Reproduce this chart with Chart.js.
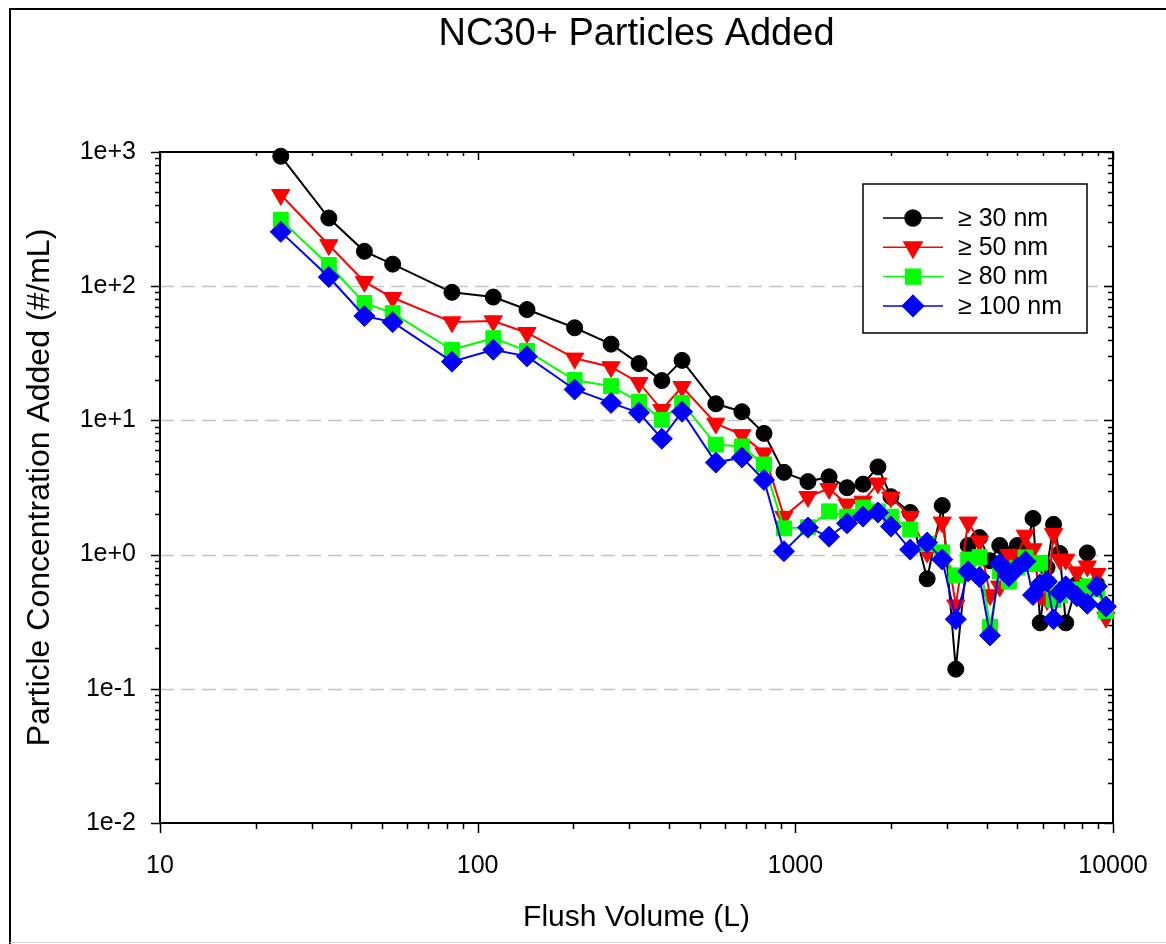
<!DOCTYPE html>
<html>
<head>
<meta charset="utf-8">
<script src="https://cdn.jsdelivr.net/npm/chart.js@4.4.1/dist/chart.umd.min.js"></script>
<style>
  html, body { margin: 0; padding: 0; background: #fff; }
  #wrap { width: 1166px; height: 944px; }
</style>
</head>
<body>
<div id="wrap"><canvas id="nc30Chart" width="1166" height="944"></canvas></div>
<script>
// flush volume (L) for every sample
const flushVolume = [24, 34, 44, 54, 83, 112, 143, 202, 263, 322, 380, 440, 562, 679, 797, 921,
  1096, 1277, 1455, 1634, 1820, 2000, 2300, 2600, 2900, 3200, 3500, 3800, 4100, 4400, 4700,
  5000, 5300, 5600, 5900, 6200, 6500, 6800, 7100, 7700, 8300, 8900, 9500];

// particle concentration added (#/mL) per size bin
const above30 = [930, 322, 182, 146, 90, 83, 67, 49, 37, 26.5, 19.8, 28, 13.3, 11.6, 8.0, 4.1,
  3.5, 3.8, 3.15, 3.35, 4.5, 2.7, 2.06, 0.66, 2.32, 0.14, 1.17, 1.34, 0.9, 1.17, 1.0,
  1.17, 1.05, 1.86, 0.31, 0.8, 1.68, 1.02, 0.31, 0.6, 1.03, 0.6, 0.4];
const above50 = [480, 203, 108, 82, 54, 55, 45, 29, 25, 19.1, 12, 17.8, 9.5, 7.8, 5.7, 1.92,
  2.7, 3.1, 2.37, 2.49, 3.4, 2.67, 1.92, 1.04, 1.74, 0.42, 1.74, 1.26, 0.5, 0.58, 1.0,
  1.0, 1.39, 1.1, 0.5, 0.46, 1.43, 0.92, 0.92, 0.74, 0.82, 0.72, 0.34];
const above80 = [312, 144, 75, 63, 33.6, 41, 33, 20, 18, 13.8, 10.1, 13.5, 6.6, 6.4, 4.7, 1.57,
  1.6, 2.1, 1.92, 2.24, 2.1, 1.92, 1.54, 1.2, 1.04, 0.7, 0.92, 0.96, 0.29, 0.75, 0.63,
  0.8, 0.95, 0.85, 0.87, 0.6, 0.46, 0.5, 0.55, 0.55, 0.58, 0.55, 0.38];
const above100 = [254, 117, 60, 54, 27.4, 33.6, 30, 17, 13.5, 11.4, 7.3, 11.6, 4.85, 5.3, 3.6, 1.06,
  1.59, 1.36, 1.71, 1.92, 2.06, 1.62, 1.09, 1.23, 0.92, 0.33, 0.75, 0.68, 0.25, 0.85, 0.69,
  0.8, 0.89, 0.5, 0.6, 0.63, 0.33, 0.52, 0.58, 0.49, 0.43, 0.58, 0.41];

const seriesNames = ['\u2265 30 nm', '\u2265 50 nm', '\u2265 80 nm', '\u2265 100 nm'];

const yTicks = [0.01, 0.1, 1, 10, 100, 1000];
const yTickLabels = ['1e-2', '1e-1', '1e+0', '1e+1', '1e+2', '1e+3'];
const xTicks = [10, 100, 1000, 10000];
const xTickLabels = ['10', '100', '1000', '10000'];

const FONT = "'Liberation Sans', Arial, Helvetica, sans-serif";

function makeSeries(label, values, color, style, rotation, radius, order) {
    return {
        label: label,
        data: values.map((v, i) => ({ x: flushVolume[i], y: v })),
        borderColor: color,
        backgroundColor: color,
        borderWidth: 2,
        pointStyle: style,
        rotation: rotation,
        pointRadius: radius,
        pointHoverRadius: radius,
        pointBorderWidth: 1,
        pointBackgroundColor: color,
        pointBorderColor: color,
        tension: 0,
        clip: false,
        order: order
    };
}

const datasets = [
    makeSeries(seriesNames[0], above30, '#000000', 'circle', 0, 8, 4),
    makeSeries(seriesNames[1], above50, '#ff0000', 'triangle', 180, 10.5, 3),
    makeSeries(seriesNames[2], above80, '#00ff00', 'rect', 0, 10.5, 2),
    makeSeries(seriesNames[3], above100, '#0000ff', 'rectRot', 0, 10.5, 1)
];

// outer border, dashed decade lines, axis box and tick marks
const framePlugin = {
    id: 'frame',
    beforeDraw(chart) {
        const ctx = chart.ctx;
        ctx.save();
        ctx.fillStyle = '#fff';
        ctx.fillRect(0, 0, chart.width, chart.height);
        ctx.strokeStyle = '#000';
        ctx.lineWidth = 2;
        ctx.beginPath();
        ctx.moveTo(10, chart.height);
        ctx.lineTo(10, 9);
        ctx.lineTo(chart.width + 5, 9);
        ctx.stroke();
        ctx.strokeStyle = '#d8d8d8';
        ctx.lineWidth = 1;
        ctx.beginPath();
        ctx.moveTo(10, 942.5);
        ctx.lineTo(chart.width, 942.5);
        ctx.stroke();
        ctx.restore();
    },
    beforeDatasetsDraw(chart) {
        const { ctx, chartArea: a, scales: { x, y } } = chart;
        ctx.save();
        // dashed lines at inner decades
        ctx.strokeStyle = '#c4c4c4';
        ctx.lineWidth = 1.5;
        ctx.setLineDash([14, 7]);
        yTicks.slice(1, -1).forEach(v => {
            const py = Math.round(y.getPixelForValue(v)) + 0.5;
            ctx.beginPath();
            ctx.moveTo(a.left, py);
            ctx.lineTo(a.right, py);
            ctx.stroke();
        });
        ctx.setLineDash([]);

        ctx.strokeStyle = '#000';
        ctx.lineWidth = 1.5;
        ctx.beginPath();
        // y ticks: outward on the left, inward on the right
        for (let d = -2; d <= 3; d++) {
            for (let m = 1; m <= 9; m++) {
                const v = m * Math.pow(10, d);
                if (v > 1000) break;
                const py = Math.round(y.getPixelForValue(v)) + 0.5;
                const len = m === 1 ? 9 : 5;
                ctx.moveTo(a.left - len, py);
                ctx.lineTo(a.left, py);
                ctx.moveTo(a.right - len, py);
                ctx.lineTo(a.right, py);
            }
        }
        // x ticks: outward at the bottom, inward at the top
        for (let d = 1; d <= 4; d++) {
            for (let m = 1; m <= 9; m++) {
                const v = m * Math.pow(10, d);
                if (v > 10000) break;
                const px = Math.round(x.getPixelForValue(v)) + 0.5;
                const len = m === 1 ? 10 : 6;
                ctx.moveTo(px, a.bottom);
                ctx.lineTo(px, a.bottom + len);
                ctx.moveTo(px, a.top);
                ctx.lineTo(px, a.top + (m === 1 ? 8 : 4));
            }
        }
        ctx.stroke();
        ctx.lineWidth = 2;
        ctx.strokeRect(a.left, a.top, a.right - a.left, a.bottom - a.top);
        ctx.restore();
    }
};

// legend box in the upper right of the plot
const legendPlugin = {
    id: 'boxLegend',
    afterDatasetsDraw(chart) {
        const ctx = chart.ctx;
        const box = { left: 863, top: 184, width: 224, height: 149 };
        ctx.save();
        ctx.fillStyle = '#fff';
        ctx.fillRect(box.left, box.top, box.width, box.height);
        ctx.strokeStyle = '#000';
        ctx.lineWidth = 1.5;
        ctx.strokeRect(box.left, box.top, box.width, box.height);
        chart.data.datasets.forEach((ds, i) => {
            const cy = 218 + i * 29.3;
            ctx.strokeStyle = ds.borderColor;
            ctx.fillStyle = ds.borderColor;
            ctx.lineWidth = 1.5;
            ctx.beginPath();
            ctx.moveTo(883, cy);
            ctx.lineTo(943, cy);
            ctx.stroke();
            Chart.helpers.drawPoint(ctx, {
                pointStyle: ds.pointStyle,
                rotation: ds.rotation,
                radius: ds.pointRadius,
                borderWidth: 1
            }, 913, cy);
            ctx.fillStyle = '#000';
            ctx.font = '25px ' + FONT;
            ctx.textBaseline = 'middle';
            ctx.textAlign = 'left';
            ctx.fillText(ds.label, 958, cy + 1);
        });
        ctx.restore();
    }
};

const ctx = document.getElementById('nc30Chart').getContext('2d');
new Chart(ctx, {
    type: 'line',
    data: { datasets: datasets },
    plugins: [framePlugin, legendPlugin],
    options: {
        responsive: false,
        animation: false,
        events: [],
        layout: { padding: { left: 0, right: 53, top: 0, bottom: 0 } },
        plugins: {
            legend: { display: false },
            tooltip: { enabled: false },
            title: {
                display: true,
                fullSize: false,
                text: 'NC30+ Particles Added',
                color: '#000',
                font: { family: FONT, size: 38, weight: 'normal', lineHeight: 1.2 },
                padding: { top: 12, bottom: 94.4 }
            }
        },
        scales: {
            x: {
                type: 'logarithmic',
                min: 10,
                max: 10000,
                afterBuildTicks: s => { s.ticks = xTicks.map(v => ({ value: v })); },
                afterFit: s => { s.height = 121; },
                grid: { display: false, drawTicks: false },
                border: { display: false },
                ticks: {
                    autoSkip: false,
                    maxRotation: 0,
                    padding: 4,
                    color: '#000',
                    // tall line box pushes the labels down without widening the side padding
                    font: { family: FONT, size: 25, lineHeight: 3.16 },
                    callback: (v, i) => xTickLabels[i]
                },
                title: {
                    display: true,
                    text: 'Flush Volume (L)',
                    color: '#000',
                    font: { family: FONT, size: 30 },
                    padding: { top: 0, bottom: 8 }
                }
            },
            y: {
                type: 'logarithmic',
                min: 0.01,
                max: 1000,
                afterBuildTicks: s => { s.ticks = yTicks.map(v => ({ value: v })); },
                afterFit: s => { s.width = 160; },
                grid: { display: false, drawTicks: false },
                border: { display: false },
                ticks: {
                    autoSkip: false,
                    padding: 24,
                    color: '#000',
                    font: { family: FONT, size: 25 },
                    callback: (v, i) => yTickLabels[i]
                },
                title: {
                    display: true,
                    text: 'Particle Concentration Added (#/mL)',
                    color: '#000',
                    font: { family: FONT, size: 32 },
                    padding: { top: 21, bottom: 0 }
                }
            }
        }
    }
});
</script>
</body>
</html>
